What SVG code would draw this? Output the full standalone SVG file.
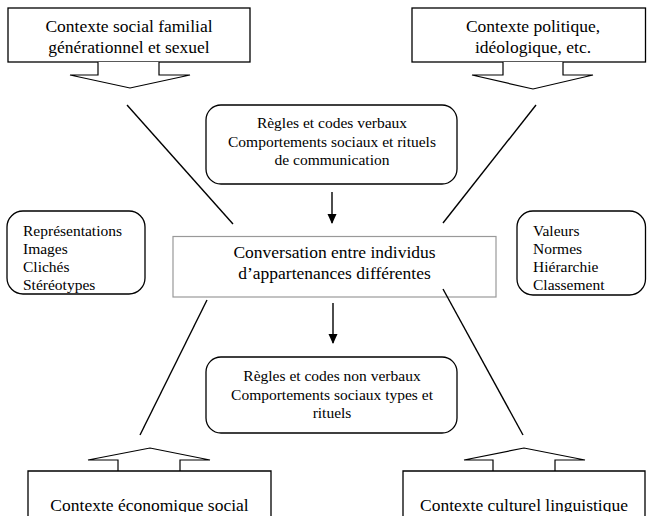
<svg xmlns="http://www.w3.org/2000/svg" width="647" height="516" viewBox="0 0 647 516">
<defs>
<style>
.box{fill:#fff;stroke:#000;stroke-width:1.3}
.cbox{fill:#fff;stroke:#999;stroke-width:1.2}
.arr{fill:#fff;stroke:#000;stroke-width:1.2;stroke-linejoin:miter}
.ln{stroke:#000;stroke-width:1.4;fill:none}
.big{font-family:"Liberation Serif","Times New Roman",serif;font-size:17.5px;fill:#000}
.sm{font-family:"Liberation Serif","Times New Roman",serif;font-size:15.5px;fill:#000}
.c{text-anchor:middle}
</style>
<marker id="ah" markerWidth="10" markerHeight="10" refX="9" refY="5" orient="auto" markerUnits="userSpaceOnUse">
<path d="M0,0.5 L10,5 L0,9.5 Z" fill="#000"/>
</marker>
<clipPath id="clipb"><rect x="0" y="0" width="647" height="512"/></clipPath>
</defs>
<rect x="0" y="0" width="647" height="516" fill="#fff"/>

<g id="ctx-social">
<rect class="box" x="8" y="8" width="242" height="54"/>
<path class="arr" d="M98,62 L98,75 L70,75 L130,88 L190,75 L159,75 L159,62"/>
<text class="big c" x="129" y="32">Contexte social familial</text>
<text class="big c" x="129" y="53">générationnel et sexuel</text>
</g>

<g id="ctx-politique">
<rect class="box" x="412" y="8" width="233.5" height="54"/>
<path class="arr" d="M503,62 L503,75 L472,75 L533,89 L593,75 L563,75 L563,62"/>
<text class="big c" x="533" y="32">Contexte politique,</text>
<text class="big c" x="533" y="53">idéologique, etc.</text>
</g>

<g id="regles-verbaux">
<rect class="box" x="206" y="105" width="251" height="79" rx="15" ry="15"/>
<text class="sm c" x="332" y="128">Règles et codes verbaux</text>
<text class="sm c" x="332" y="147">Comportements sociaux et rituels</text>
<text class="sm c" x="332" y="165">de communication</text>
</g>

<g id="representations">
<rect class="box" x="7" y="211" width="138" height="83" rx="16" ry="16"/>
<text class="sm" x="23" y="236">Représentations</text>
<text class="sm" x="23" y="254">Images</text>
<text class="sm" x="23" y="272">Clichés</text>
<text class="sm" x="23" y="290">Stéréotypes</text>
</g>

<g id="conversation">
<rect class="cbox" x="173" y="236.5" width="323" height="60.5"/>
<text class="big c" x="334.5" y="258">Conversation entre individus</text>
<text class="big c" x="334.5" y="279">d’appartenances différentes</text>
</g>

<g id="valeurs">
<rect class="box" x="517" y="211" width="128.5" height="84" rx="16" ry="16"/>
<text class="sm" x="533" y="236">Valeurs</text>
<text class="sm" x="533" y="254">Normes</text>
<text class="sm" x="533" y="272">Hiérarchie</text>
<text class="sm" x="533" y="290">Classement</text>
</g>

<g id="regles-non-verbaux">
<rect class="box" x="206" y="357" width="251" height="76" rx="15" ry="15"/>
<text class="sm c" x="332" y="381">Règles et codes non verbaux</text>
<text class="sm c" x="332" y="400">Comportements sociaux types et</text>
<text class="sm c" x="332" y="418">rituels</text>
</g>

<g id="ctx-economique">
<path class="arr" d="M118,471 L118,460 L88,460 L150,448 L210,460 L180,460 L180,471"/>
<path class="box" d="M28,520 L28,471 L271,471 L271,520" fill="none"/>
<text class="big c" x="149.5" y="511" clip-path="url(#clipb)">Contexte économique social</text>
</g>

<g id="ctx-culturel">
<path class="arr" d="M493,471 L493,460 L464,460 L524,448 L585,460 L555,460 L555,471"/>
<path class="box" d="M403,520 L403,471 L645,471 L645,520" fill="none"/>
<text class="big c" x="524" y="511" clip-path="url(#clipb)">Contexte culturel linguistique</text>
</g>

<g id="connectors">
<line class="ln" x1="127" y1="105" x2="233" y2="224"/>
<line class="ln" x1="536" y1="105" x2="443" y2="223"/>
<line class="ln" x1="207" y1="300" x2="140" y2="435"/>
<line class="ln" x1="443" y1="289" x2="523" y2="435"/>
<line class="ln" x1="332" y1="192" x2="332" y2="223" marker-end="url(#ah)"/>
<line class="ln" x1="333" y1="303" x2="333" y2="343" marker-end="url(#ah)"/>
</g>
</svg>
